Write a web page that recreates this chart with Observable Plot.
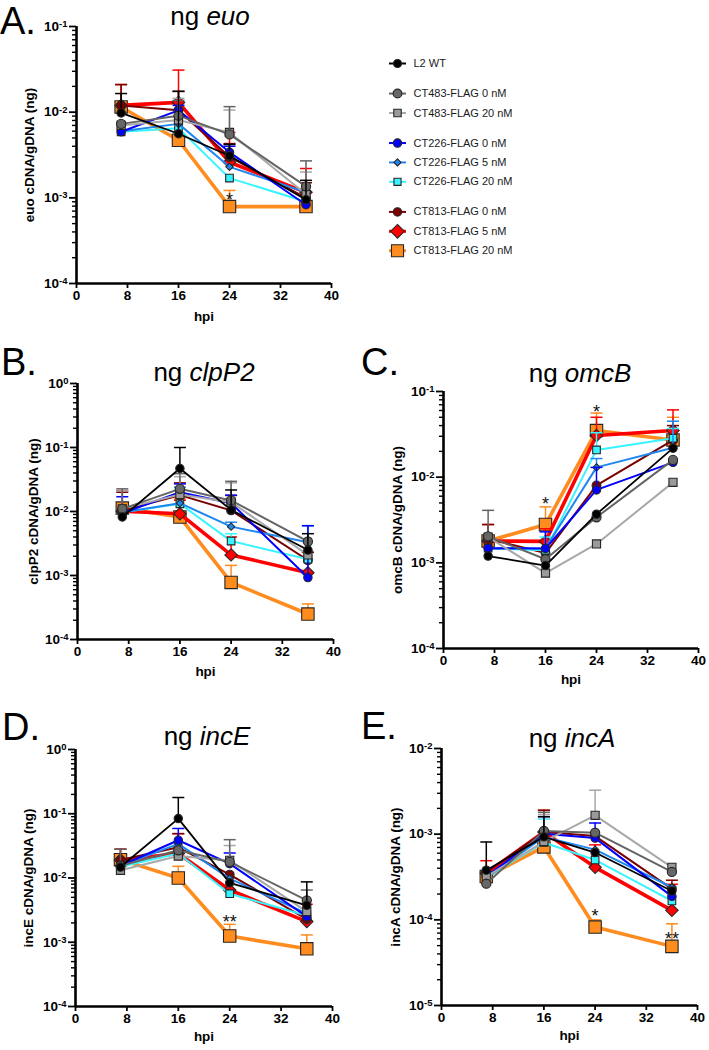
<!DOCTYPE html>
<html><head><meta charset="utf-8">
<script src="https://cdn.jsdelivr.net/npm/d3@7"></script>
<script src="https://cdn.jsdelivr.net/npm/@observablehq/plot@0.6"></script>
<style>
html,body{margin:0;padding:0;background:#fff;}
#fig{position:relative;width:709px;height:1050px;overflow:hidden;background:#fff;font-family:"Liberation Sans",Arial,sans-serif;}
#fig svg{position:absolute;overflow:visible;background:none;}
</style></head><body><div id="fig"></div>
<script>
// ---------------- data ----------------
const hpi = [7, 16, 24, 36];
const seriesNames = ["L2 WT", "CT483-FLAG 0 nM", "CT483-FLAG 20 nM",
  "CT226-FLAG 0 nM", "CT226-FLAG 5 nM", "CT226-FLAG 20 nM",
  "CT813-FLAG 0 nM", "CT813-FLAG 5 nM", "CT813-FLAG 20 nM"];
const seriesGroup = [0, 1, 1, 2, 2, 2, 3, 3, 3];
const xTicks = [0, 8, 16, 24, 32, 40];

const euoMean = [
  [0.0098, 0.0056, 0.0031, 0.00095],
  [0.0073, 0.0091, 0.0055, 0.00136],
  [0.0070, 0.0081, 0.0058, 0.0011],
  [0.0059, 0.0105, 0.0034, 0.00083],
  [0.0060, 0.0073, 0.0023, 0.00116],
  [0.0059, 0.0065, 0.0017, 0.0009],
  [0.0120, 0.0105, 0.0030, 0.0010],
  [0.0120, 0.0130, 0.0026, 0.00116],
  [0.0115, 0.0047, 0.00079, 0.00079]];
const euoUpper = [
  [0.0165, 0.0175, 0.0042, 0.0016],
  [null, 0.0137, 0.0116, 0.0027],
  [null, 0.0145, 0.0106, 0.0020],
  [null, 0.0120, 0.0040, null],
  [null, null, null, null],
  [null, null, null, null],
  [0.021, 0.0175, 0.0043, 0.0015],
  [0.021, 0.031, 0.0058, 0.0022],
  [null, null, 0.00122, 0.00116]];

const clpP2Mean = [
  [0.0082, 0.047, 0.0106, 0.0025],
  [0.011, 0.0226, 0.0149, 0.0034],
  [0.011, 0.0184, 0.014, 0.0021],
  [0.0094, 0.020, 0.0135, 0.00093],
  [0.0097, 0.0135, 0.0058, 0.0033],
  [0.0097, 0.0132, 0.00345, 0.0018],
  [0.0104, 0.018, 0.0104, 0.00173],
  [0.0101, 0.0092, 0.0021, 0.0011],
  [0.0113, 0.0082, 0.00078, 0.00025]];
const clpP2Upper = [
  [null, 0.10, 0.0217, 0.0045],
  [0.0226, 0.039, 0.0296, null],
  [0.021, 0.035, 0.028, null],
  [0.017, 0.027, 0.018, 0.006],
  [null, 0.024, 0.0068, 0.006],
  [null, 0.022, 0.0045, null],
  [0.020, 0.028, 0.0178, 0.0023],
  [0.0212, 0.015, 0.004, 0.0023],
  [null, 0.0157, 0.00144, 0.00036]];

const omcBMean = [
  [0.0012, 0.00093, 0.0037, 0.0218],
  [0.00204, 0.0011, 0.0034, 0.0159],
  [0.0020, 0.00076, 0.00166, 0.0087],
  [0.00148, 0.00147, 0.0071, 0.0149],
  [0.00146, 0.00148, 0.013, 0.022],
  [0.00148, 0.0014, 0.0208, 0.0285],
  [0.0019, 0.0013, 0.008, 0.027],
  [0.0018, 0.00178, 0.0306, 0.035],
  [0.0018, 0.0028, 0.035, 0.0272]];
const omcBUpper = [
  [null, null, null, null],
  [0.0041, null, null, null],
  [null, null, null, null],
  [null, 0.0023, 0.013, null],
  [null, null, 0.0165, 0.045],
  [null, 0.002, 0.033, 0.037],
  [0.0028, null, null, 0.04],
  [0.0028, 0.0025, 0.05, 0.061],
  [null, 0.0045, 0.056, 0.05]];

const incEMean = [
  [0.0148, 0.084, 0.0084, 0.00375],
  [0.0155, 0.027, 0.0178, 0.0045],
  [0.0132, 0.022, 0.0188, 0.003],
  [0.0155, 0.0387, 0.0167, 0.0025],
  [0.0155, 0.034, 0.0098, 0.0028],
  [0.015, 0.024, 0.0057, 0.0026],
  [0.019, 0.030, 0.0113, 0.0023],
  [0.019, 0.024, 0.0065, 0.0021],
  [0.0193, 0.0100, 0.00125, 0.00079]];
const incEUpper = [
  [null, 0.179, null, 0.0087],
  [0.028, null, 0.0395, 0.0065],
  [null, null, 0.032, null],
  [null, 0.059, 0.0245, null],
  [null, null, null, null],
  [null, null, null, null],
  [0.028, 0.049, null, null],
  [0.028, 0.049, null, 0.0039],
  [null, 0.0152, 0.0019, 0.0013]];

const incAMean = [
  [0.00038, 0.00093, 0.00061, 0.000217],
  [0.000264, 0.00109, 0.00104, 0.000362],
  [0.00032, 0.00082, 0.00166, 0.00041],
  [0.00032, 0.00101, 0.0009, 0.000188],
  [0.00031, 0.00093, 0.00066, 0.00024],
  [0.00031, 0.0008, 0.0005, 0.000166],
  [0.00036, 0.00106, 0.00095, 0.00023],
  [0.00035, 0.00106, 0.00041, 0.000129],
  [0.00032, 0.00071, 0.0000824, 0.000049]];
const incAUpper = [
  [0.00081, 0.0016, null, null],
  [null, 0.0018, null, null],
  [null, 0.0017, 0.00326, null],
  [null, 0.0016, 0.00135, null],
  [null, null, null, null],
  [null, 0.0015, null, null],
  [null, 0.0019, null, 0.00029],
  [0.00049, 0.0019, 0.00075, 0.00026],
  [null, null, 0.0001, 0.00009]];

// significance marks
const starPanel = ["A", "C", "C", "D", "E", "E"];
const starHpi = [24, 16, 24, 24, 24, 36];
const starValue = [0.00104, 0.00535, 0.0645, 0.00234, 0.000123, 0.0000656];
const starText = ["*", "*", "*", "**", "*", "**"];

const panelKeys = ["A", "B", "C", "D", "E"];
const panelGenes = ["euo", "clpP2", "omcB", "incE", "incA"];
const panelMeans = [euoMean, clpP2Mean, omcBMean, incEMean, incAMean];
const panelUppers = [euoUpper, clpP2Upper, omcBUpper, incEUpper, incAUpper];
const panelYDomains = [[1e-4, 1e-1], [1e-4, 1], [1e-4, 1e-1], [1e-4, 1], [1e-5, 1e-2]];
const panelYLabels = ["euo cDNA/gDNA (ng)", "clpP2 cDNA/gDNA (ng)", "omcB cDNA/gDNA (ng)",
  "incE cDNA/gDNA (ng)", "incA cDNA/gDNA (ng)"];

// ---------------- styles / layout ----------------
const seriesColor = ["#000000", "#646464", "#a8a8a8", "#0000ff", "#1e87f0", "#38f4ff", "#7a0000", "#ff0000", "#ff8c1f"];
const seriesFill = ["#000000", "#666666", "#9a9a9a", "#0000ff", "#1e87f0", "#38f4ff", "#7a0000", "#ff0000", "#ff8c1f"];
const seriesSymbol = ["circle", "circle", "square", "circle", "diamond2", "square", "circle", "diamond2", "square"];
const seriesR = [4.2, 4.6, 4.6, 4.2, 3.3, 4.3, 4.4, 5.6, 7];
const seriesWidth = [1.8, 2, 2, 2, 2, 2, 2, 3.6, 3.6];
const legendR = [4, 4.4, 4.2, 4.2, 3.2, 4, 4.2, 6.2, 6.8];

// frame edges in page px: left, right, top, bottom
const panelFrames = [[76, 331, 26, 283], [77, 333, 383, 639], [443, 698, 391, 648], [75, 332, 749, 1006], [441, 697, 748, 1005]];
const panelCol = [0, 0, 1, 0, 1];
const panelLabelOffset = [52, 49, 51, 52, 51];
const panelXLabelOffset = [37, 36, 35, 34, 34];
const panelTitleXY = [[210, 25], [204, 381], [580, 382], [207, 745], [572, 747]];
const panelLetterXY = [[0, 34], [1, 375], [361, 375], [2, 740], [361, 739]];

const fig = document.getElementById("fig");
const SVGNS = "http://www.w3.org/2000/svg";

// custom symbol: horizontal segment of half-width r (error caps, legend lines)
const hSeg = {draw(ctx, size) { const w = Math.sqrt(size / Math.PI); ctx.moveTo(-w, 0); ctx.lineTo(w, 0); }};

function supTicks(svg) {
  svg.querySelectorAll("text").forEach(t => {
    const m = /^10\^(-?\d+)$/.exec(t.textContent);
    if (m) {
      t.textContent = "10";
      const ts = document.createElementNS(SVGNS, "tspan");
      ts.setAttribute("dy", "-0.42em");
      ts.setAttribute("font-size", "0.7em");
      ts.textContent = m[1];
      t.appendChild(ts);
    }
  });
}

panelKeys.forEach((key, p) => {
  const [l, r, t, b] = panelFrames[p];
  const svgLeft = panelCol[p] === 0 ? 0 : 355;
  const svgTop = t - 30;
  const W = 354, H = (b + 55) - svgTop;
  const means = panelMeans[p], uppers = panelUppers[p];
  const [y0, y1] = panelYDomains[p];
  const k0 = Math.round(Math.log10(y0)), k1 = Math.round(Math.log10(y1));
  const majors = d3.range(k0, k1 + 1).map(k => +`1e${k}`);
  const minors = majors.slice(0, -1).flatMap(m => d3.range(2, 10).map(j => +(j * m).toPrecision(3)));

  const marks = [
    Plot.axisY(minors, {anchor: "left", tickSize: 4, tickFormat: () => "", strokeWidth: 1.4, label: null}),
    Plot.axisY(majors, {anchor: "left", tickSize: 7, tickPadding: 2, strokeWidth: 1.8,
      tickFormat: d => `10^${Math.round(Math.log10(d))}`,
      label: panelYLabels[p], labelAnchor: "center", labelOffset: panelLabelOffset[p], labelArrow: "none"}),
    Plot.axisX(xTicks, {anchor: "bottom", tickSize: 5, tickPadding: 2, strokeWidth: 1.8,
      label: "hpi", labelAnchor: "center", labelOffset: panelXLabelOffset[p], labelArrow: "none"}),
    Plot.ruleX([0], {strokeWidth: 2.6}),
    Plot.ruleY([y0], {strokeWidth: 2.6})
  ];

  for (let s = seriesNames.length - 1; s >= 0; s--) {
    const pts = hpi.map((h, i) => ({t: h, v: means[s][i]}));
    const errs = hpi.map((h, i) => ({t: h, v: means[s][i], hi: uppers[s][i]})).filter(d => d.hi != null);
    marks.push(Plot.ruleX(errs, {x: "t", y1: "v", y2: "hi", stroke: seriesColor[s], strokeWidth: 1.5}));
    marks.push(Plot.dot(errs, {x: "t", y: "hi", symbol: hSeg, r: 6, fill: "none", stroke: seriesColor[s], strokeWidth: 1.5}));
    marks.push(Plot.line(pts, {x: "t", y: "v", stroke: seriesColor[s], strokeWidth: seriesWidth[s]}));
    marks.push(Plot.dot(pts, {x: "t", y: "v", symbol: seriesSymbol[s], r: seriesR[s], fill: seriesFill[s],
      stroke: "#262626", strokeWidth: 1.1}));
  }

  const stars = starPanel.map((sp, i) => ({sp, t: starHpi[i], v: starValue[i], txt: starText[i]})).filter(d => d.sp === key);
  marks.push(Plot.text(stars, {x: "t", y: "v", text: "txt", fontSize: 18, fontWeight: "normal", fill: "#111", dy: 4}));

  const svg = Plot.plot({
    width: W, height: H,
    marginLeft: l - svgLeft, marginRight: svgLeft + W - r, marginTop: 30, marginBottom: 55,
    x: {domain: [0, 40]},
    y: {type: "log", domain: [y0, y1]},
    style: {fontFamily: "'Liberation Sans', Arial, sans-serif", fontSize: "13.5px", fontWeight: "bold", color: "#000", background: "none", overflow: "visible"},
    marks
  });
  supTicks(svg);
  svg.style.left = svgLeft + "px";
  svg.style.top = svgTop + "px";
  fig.appendChild(svg);
});

// ---------------- legend ----------------
const legendRowH = 19.4, legendGap = 0.55;
const legendRows = seriesNames.map((name, s) => ({s, name, row: s + legendGap * seriesGroup[s]}));
const maxRow = d3.max(legendRows, d => d.row);
const legendMarks = [];
legendRows.forEach(d => {
  legendMarks.push(Plot.dot([d], {y: "row", frameAnchor: "left", dx: 17, symbol: hSeg, r: 8.5, fill: "none",
    stroke: seriesColor[d.s], strokeWidth: d.s >= 7 ? 3 : 2}));
  legendMarks.push(Plot.dot([d], {y: "row", frameAnchor: "left", dx: 17, symbol: seriesSymbol[d.s], r: legendR[d.s],
    fill: seriesFill[d.s], stroke: "#262626", strokeWidth: 1.1}));
});
legendMarks.push(Plot.text(legendRows, {y: "row", text: "name", frameAnchor: "left", dx: 33, textAnchor: "start",
  fontSize: 11, fill: "#1a1a1a"}));
const legend = Plot.plot({
  width: 200, height: 220, margin: 0,
  x: {domain: [0, 1], axis: null},
  y: {domain: [0, maxRow], range: [13, 13 + maxRow * legendRowH], axis: null},
  style: {fontFamily: "'Liberation Sans', Arial, sans-serif", background: "none", overflow: "visible"},
  marks: legendMarks
});
legend.style.left = "380px";
legend.style.top = "50px";
fig.appendChild(legend);

// ---------------- titles and panel letters ----------------
const over = document.createElementNS(SVGNS, "svg");
over.setAttribute("width", 709); over.setAttribute("height", 1050);
over.style.left = "0px"; over.style.top = "0px";
panelKeys.forEach((key, p) => {
  const [lx, ly] = panelLetterXY[p];
  const letter = document.createElementNS(SVGNS, "text");
  letter.setAttribute("x", lx); letter.setAttribute("y", ly);
  letter.setAttribute("font-size", 38);
  letter.setAttribute("font-family", "'Liberation Sans', Arial, sans-serif");
  letter.textContent = key + ".";
  over.appendChild(letter);
  const [tx, ty] = panelTitleXY[p];
  const title = document.createElementNS(SVGNS, "text");
  title.setAttribute("x", tx); title.setAttribute("y", ty);
  title.setAttribute("font-size", 26);
  title.setAttribute("text-anchor", "middle");
  title.setAttribute("font-family", "'Liberation Sans', Arial, sans-serif");
  title.appendChild(document.createTextNode("ng "));
  const it = document.createElementNS(SVGNS, "tspan");
  it.setAttribute("font-style", "italic");
  it.textContent = panelGenes[p];
  title.appendChild(it);
  over.appendChild(title);
});
fig.appendChild(over);
</script>
</body></html>
